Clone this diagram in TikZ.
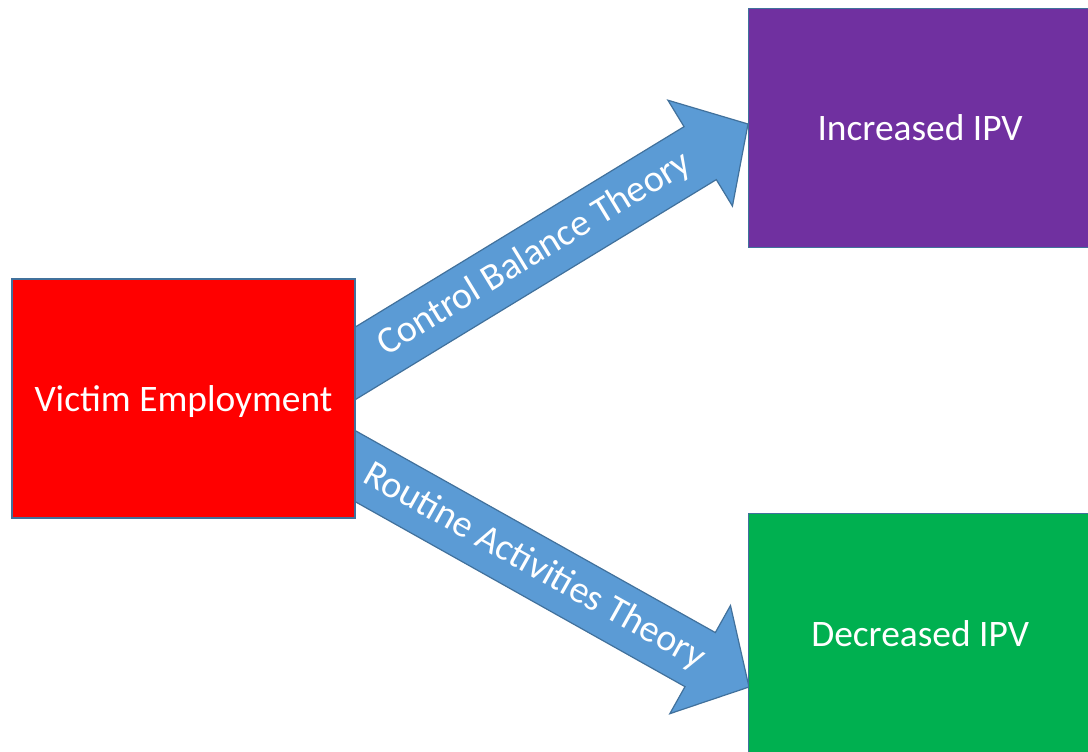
\documentclass[tikz,border=0pt]{standalone}
\usepackage{fontspec}
\setmainfont{Carlito}
\usetikzlibrary{positioning,calc}

\definecolor{ivred}{HTML}{FF0000}
\definecolor{ivpurple}{HTML}{7030A0}
\definecolor{ivgreen}{HTML}{00B050}
\definecolor{ivblue}{HTML}{5B9BD5}
\definecolor{ivline}{HTML}{41719C}

\tikzset{
  outcome/.style={draw=ivline, line width=0.8pt, minimum width=171.5pt, minimum height=119.5pt,
    inner sep=0pt, text=white, font=\fontsize{18.7}{22}\selectfont, text depth=0pt},
  theory/.style={fill=ivblue, draw=ivline, line width=0.6pt, line join=miter},
  theorylabel/.style={text=white, font=\fontsize{19}{23}\selectfont, sloped}
}

% block arrow: back end, tail, tip, label
\newcommand{\theoryarrow}[4]{%
  \coordinate (hb) at ($(#3)!28pt!(#2)$);
  \path[theory] ($(#1)!15.5pt!90:(#3)$) -- ($(hb)!15.5pt!-90:(#2)$) -- ($(hb)!31pt!-90:(#2)$)
    -- (#3) -- ($(hb)!31pt!90:(#2)$) -- ($(hb)!15.5pt!90:(#2)$) -- ($(#1)!15.5pt!-90:(#3)$) -- cycle;
  \path (#2) -- (hb) node[pos=0.52, theorylabel] {#4};
}

\begin{document}
\begin{tikzpicture}[x=0.5pt, y=-0.5pt]
  \useasboundingbox (0,0) rectangle (1088,751);
  \fill[white] (0,0) rectangle (1088,751);

  % arrows first, the boxes cover their tails
  \coordinate (cbtail) at (355,363.5);
  \coordinate (cbtip) at (748,124);
  \coordinate (cbback) at ($(cbtail)!-24pt!(cbtip)$);
  \coordinate (ratail) at (355,466);
  \coordinate (ratip) at (749,687);
  \coordinate (raback) at ($(ratail)!-24pt!(ratip)$);
  \theoryarrow{cbback}{cbtail}{cbtip}{Control Balance Theory}
  \theoryarrow{raback}{ratail}{ratip}{Routine Activities Theory}

  \node[outcome, fill=ivred] (victim) at (183.5,398.5) {Victim Employment};
  \node[outcome, fill=ivpurple] (increased) [above right = 15pt and 196pt of victim] {Increased IPV};
  \node[outcome, fill=ivgreen] (decreased) [below right = -3pt and 196pt of victim] {Decreased IPV};
\end{tikzpicture}
\end{document}
